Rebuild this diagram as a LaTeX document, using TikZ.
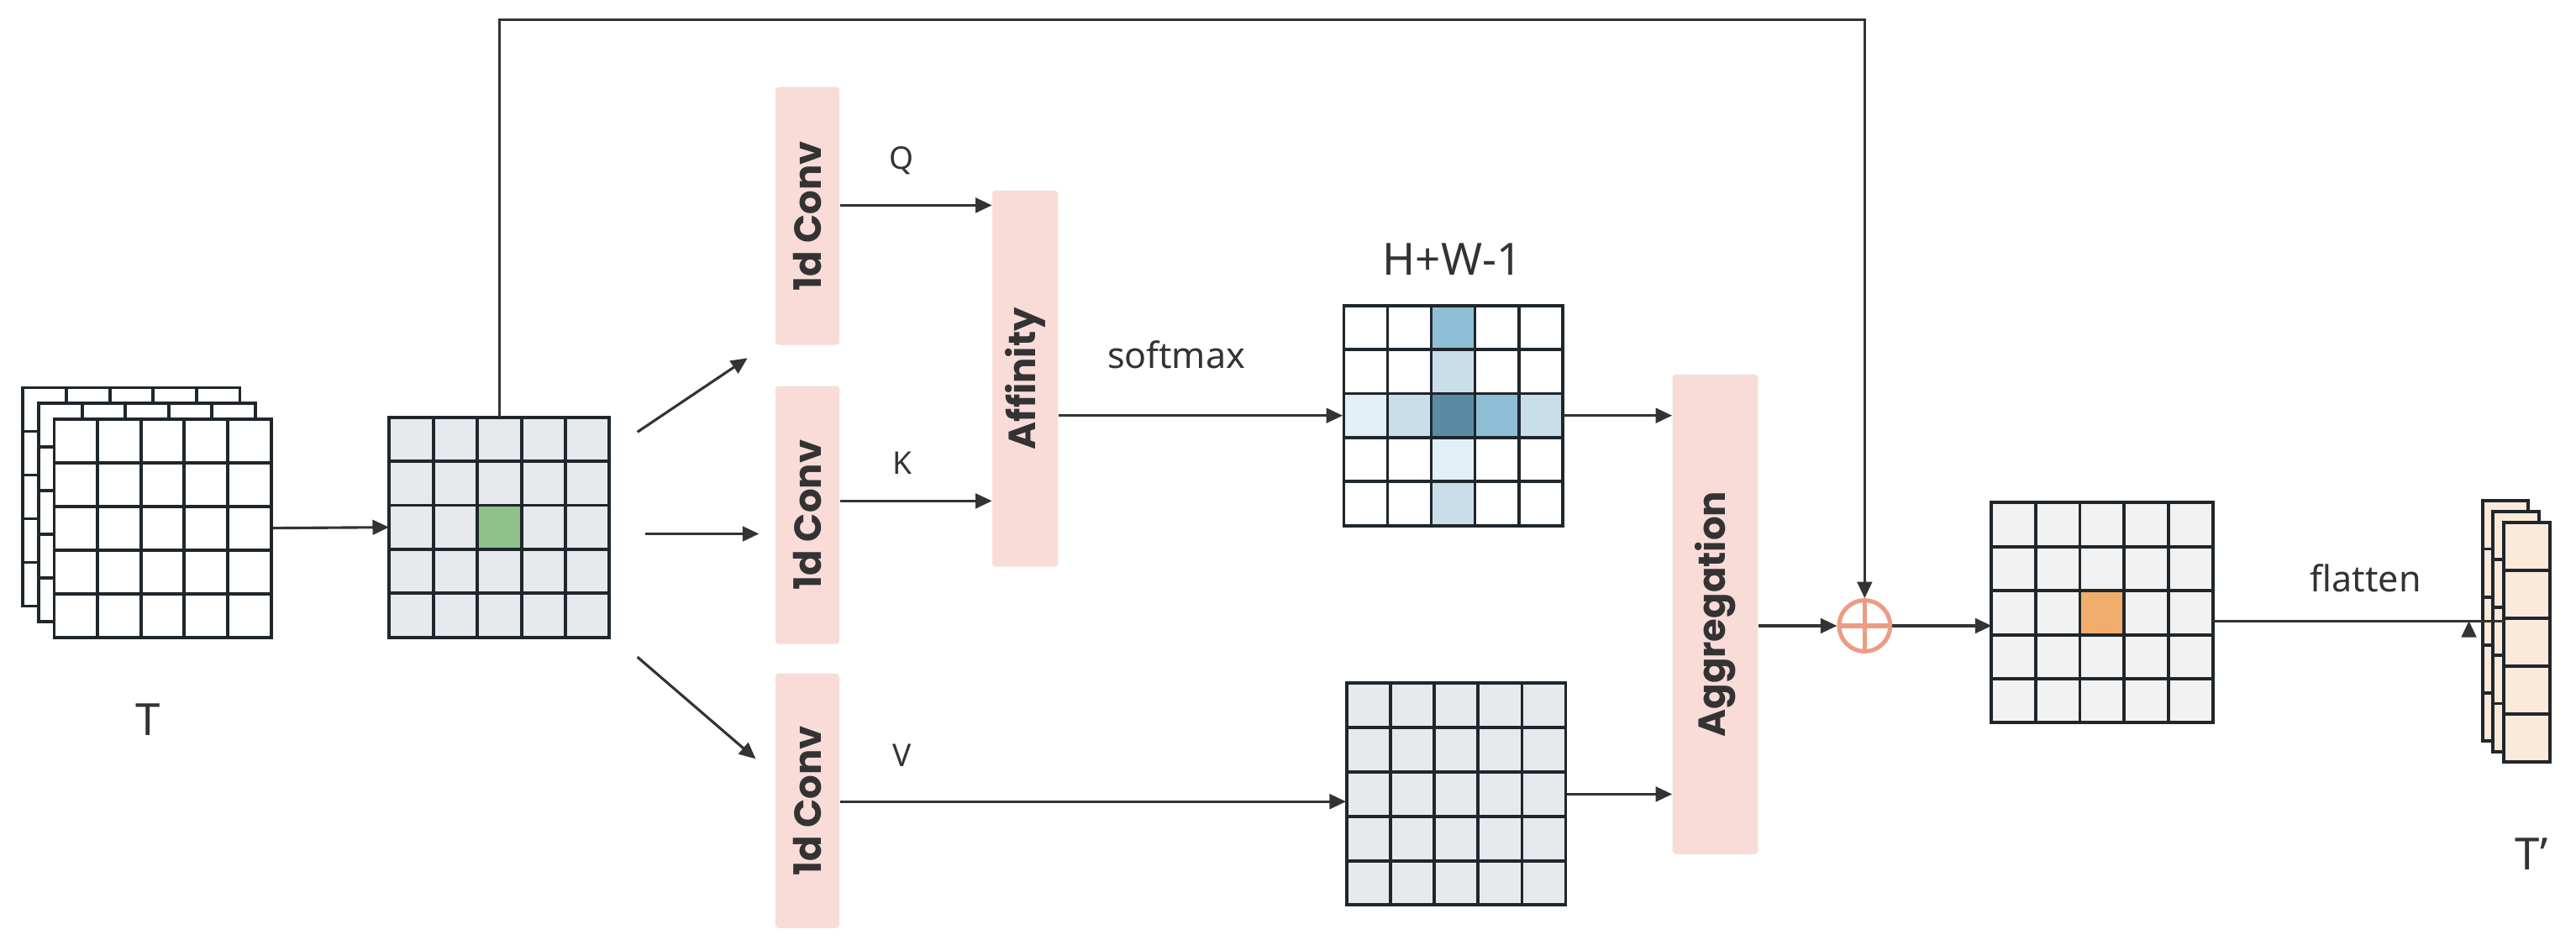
\documentclass[tikz,border=0pt]{standalone}
\usepackage{fontspec}
\setmainfont{Noto Sans}
\newfontfamily\boxfont{Poppins}
\usetikzlibrary{arrows.meta,positioning,calc}
\definecolor{gridline}{HTML}{1F262C}
\definecolor{arrowc}{HTML}{333333}
\definecolor{boxpink}{HTML}{F9DCD7}
\definecolor{txt}{HTML}{333333}
\definecolor{mapgray}{HTML}{E6EAED}
\definecolor{outgray}{HTML}{F2F2F2}
\definecolor{hitgreen}{HTML}{8FC18A}
\definecolor{hitorange}{HTML}{F0AD6B}
\definecolor{blueA}{HTML}{E2EFF5}
\definecolor{blueB}{HTML}{C8DFEA}
\definecolor{blueC}{HTML}{8FBFD6}
\definecolor{blueD}{HTML}{5B8BA3}
\definecolor{plusc}{HTML}{EE9B85}
\definecolor{tokfill}{HTML}{FBE9D9}
\tikzset{
  cellline/.style={draw=gridline,line width=2pt,line cap=rect},
  conn/.style={draw=arrowc,line width=1.6pt,-{Triangle[length=10pt,width=9pt]}},
  opbox/.style={fill=boxpink,rounded corners=2pt,inner sep=0pt,text=txt,
    font=\boxfont\bfseries\fontsize{23}{23}\selectfont},
  area/.style={inner sep=0pt,minimum width=#1,minimum height=#1},
  area/.default=134pt,
  lbl/.style={text=txt,font=\bfseries\fontsize{19}{19}\selectfont},
  big/.style={text=txt,font=\bfseries\fontsize{27}{27}\selectfont},
  word/.style={text=txt,font=\fontsize{22}{22}\selectfont}
}
% 5 x #3 cell grid, #1 wide, #2 high, top left at scope origin
\newcommand{\cellgrid}[3]{%
  \foreach \i in {0,...,5} \draw[cellline] ({\i*#1/5},0) -- ({\i*#1/5},#2);
  \foreach \j in {0,...,#3} \draw[cellline] (0,{\j*#2/#3}) -- (#1,{\j*#2/#3});}
\begin{document}
\begin{tikzpicture}[x=1pt,y=-1pt]
\useasboundingbox (0,0) rectangle (1568,572);
% input stack
\foreach \d in {-19,-9.5,0}{
  \begin{scope}[shift={(33+\d,255+\d)}]
    \fill[white] (0,0) rectangle (132,133);
    \cellgrid{132}{133}{5}
  \end{scope}}
\node[area=133pt] (Tin) at (99,321.5) {};
\node[big] (Tlbl) at (90,438) {T};
% feature map
\begin{scope}[shift={(237,254)}]
  \fill[mapgray] (0,0) rectangle (134,134);
  \fill[hitgreen] (53.6,53.6) rectangle ++(26.8,26.8);
  \cellgrid{134}{134}{5}
\end{scope}
\node[area] (G2) at (304,321) {};
% 1d convs and affinity
\node[opbox,minimum width=39pt,minimum height=157pt] (convQ) at (491.5,131.5) {\rotatebox{90}{1d Conv}};
\node[opbox,minimum width=39pt,minimum height=157pt] (convK) at (491.5,313.5) {\rotatebox{90}{1d Conv}};
\node[opbox,minimum width=39pt,minimum height=155pt] (convV) at (491.5,487.5) {\rotatebox{90}{1d Conv}};
\node[opbox,minimum width=40pt,minimum height=229pt] (aff) at (624,230.5) {\rotatebox{90}{Affinity}};
\node[lbl] (Q) at (549,98) {Q};
\node[lbl] (K) at (549,282) {K};
\node[lbl] (V) at (549,460) {V};
\coordinate (sQ) at (388,263); \coordinate (eQ) at (455,218);
\coordinate (sK) at (393,325); \coordinate (eK) at (462,325);
\coordinate (sV) at (388,400); \coordinate (eV) at (460,462);
\draw[conn] (sQ) -- (eQ);
\draw[conn] (sK) -- (eK);
\draw[conn] (sV) -- (eV);
\draw[conn] (Tin.east) -- (G2.west);
% attention map
\node[big] (hw) at (884,158) {H+W-1};
\begin{scope}[shift={(818,186)}]
  \foreach \c/\r/\col in {2/0/blueC,2/1/blueB,0/2/blueA,1/2/blueB,2/2/blueD,
      3/2/blueC,4/2/blueB,2/3/blueA,2/4/blueB}
    \fill[\col] ({\c*26.6},{\r*26.8}) rectangle ++(26.6,26.8);
  \cellgrid{133}{134}{5}
\end{scope}
\node[area] (att) at (884.5,253) {};
\begin{scope}[shift={(820,416)}]
  \fill[mapgray] (0,0) rectangle (133,135);
  \cellgrid{133}{135}{5}
\end{scope}
\node[area] (val) at (886.5,483.5) {};
\node[word] (soft) at (716,216) {softmax};
\draw[conn] (convQ.east |- 0,125) -- (aff.west |- 0,125);
\draw[conn] (convK.east |- 0,305) -- (aff.west |- 0,305);
\draw[conn] (convV.east |- 0,488) -- (val.west |- 0,488);
\draw[conn] (aff.east |- att) -- (att.west);
% aggregation and residual
\node[opbox,minimum width=52pt,minimum height=292pt] (agg) at (1044,374) {\rotatebox{90}{Aggregation}};
\draw[conn] (att.east) -- (agg.west |- att);
\draw[conn] (val.east) -- (agg.west |- val);
\node[circle,draw=plusc,line width=2.6pt,minimum size=31pt,inner sep=0pt] (plus) at (1135,381) {};
\draw[plusc,line width=2.6pt] (plus.north) -- (plus.south) (plus.west) -- (plus.east);
\draw[conn] (agg.east |- plus) -- (plus.west);
\draw[conn] (G2.north) -- ++(0,-242) -| (plus.north);
% output map
\begin{scope}[shift={(1212,306)}]
  \fill[outgray] (0,0) rectangle (135,134);
  \fill[hitorange] (54,53.6) rectangle ++(27,26.8);
  \cellgrid{135}{134}{5}
\end{scope}
\node[area] (out) at (1279.5,373) {};
\draw[conn] (plus.east) -- (out.west |- plus);
% tokens
\foreach \d in {-13,-6.5,0}{
  \begin{scope}[shift={(1524+\d,318+\d)}]
    \fill[tokfill] (0,0) rectangle (28,146);
    \foreach \j in {0,...,5} \draw[cellline] (0,{\j*29.2}) -- (28,{\j*29.2});
    \draw[cellline] (0,0) -- (0,146) (28,0) -- (28,146);
  \end{scope}}
\node[inner sep=0pt,minimum width=28pt,minimum height=146pt] (tok) at (1538,391) {};
\node[word] (flat) at (1440,352) {flatten};
\draw[conn] (out.east |- 0,378) -- (tok.west |- 0,378) ++(-21,0);
\node[big] (Tout) at (1541,520) {T'};
\end{tikzpicture}
\end{document}
